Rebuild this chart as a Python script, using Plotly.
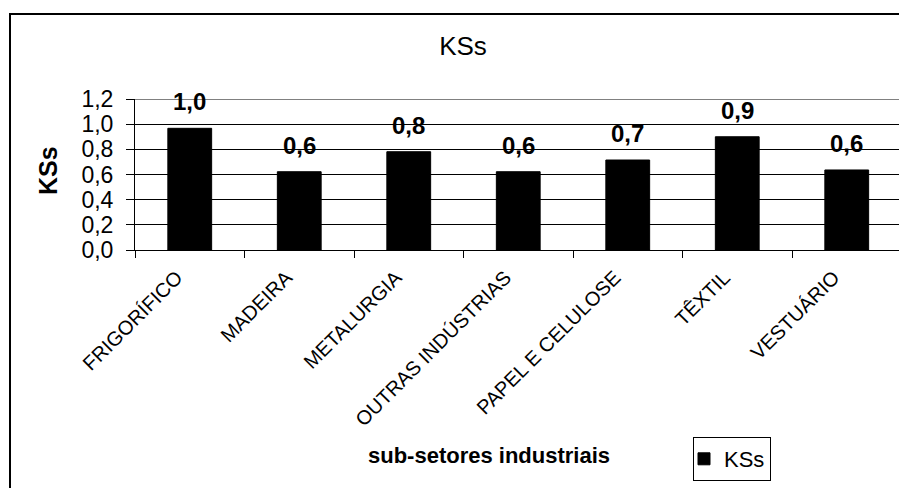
import plotly.graph_objects as go

# Sub-sectors and their KSs values
categories = ["FRIGORÍFICO", "MADEIRA", "METALURGIA", "OUTRAS INDÚSTRIAS",
              "PAPEL E CELULOSE", "TÊXTIL", "VESTUÁRIO"]
kss_values = [0.967, 0.622, 0.781, 0.622, 0.715, 0.900, 0.636]
y_ticks = [0.0, 0.2, 0.4, 0.6, 0.8, 1.0, 1.2]

FONT = "Arial, Liberation Sans, sans-serif"

W, H = 899, 488
ML, MR, MT, MB = 135, 0, 99, 238
plot_w = W - ML - MR
plot_h = H - MT - MB


def px_to_paper_x(px):
    return (px - ML) / plot_w


def px_to_paper_y(py):
    return (H - MB - py) / plot_h


fig = go.Figure()
fig.add_trace(go.Bar(
    x=categories,
    y=kss_values,
    name="KSs",
    marker=dict(color="black", line=dict(color="black", width=1)),
))

# Value labels above each bar (one decimal, comma separator)
for cat, val in zip(categories, kss_values):
    fig.add_annotation(
        x=cat, y=val, xref="x", yref="y",
        text="<b>" + f"{val:.1f}".replace(".", ",") + "</b>",
        showarrow=False, xanchor="center", yanchor="bottom", yshift=11,
        font=dict(family=FONT, size=24, color="black"),
    )

# Axis titles
fig.add_annotation(
    x=px_to_paper_x(48), y=px_to_paper_y(171), xref="paper", yref="paper",
    xanchor="center", yanchor="middle",
    text="<b>KSs</b>", textangle=-90, showarrow=False,
    font=dict(family=FONT, size=25, color="black"),
)
fig.add_annotation(
    x=px_to_paper_x(489), y=px_to_paper_y(455), xref="paper", yref="paper",
    xanchor="center", yanchor="middle",
    text="<b>sub-setores industriais</b>", showarrow=False,
    font=dict(family=FONT, size=22, color="black"),
)

# Top edge of the plot area and the outer chart frame
fig.add_shape(type="line", xref="paper", yref="y", x0=0, x1=1, y0=1.2, y1=1.2,
              line=dict(color="#808080", width=2))
fig.add_shape(type="rect", xref="paper", yref="paper",
              x0=px_to_paper_x(10), x1=px_to_paper_x(W + 60),
              y0=px_to_paper_y(H + 60), y1=px_to_paper_y(14),
              line=dict(color="black", width=2), fillcolor="rgba(0,0,0,0)")

fig.update_layout(
    width=W, height=H,
    margin=dict(l=ML, r=MR, t=MT, b=MB, autoexpand=False),
    paper_bgcolor="white", plot_bgcolor="white",
    separators=",.",
    bargap=0.6,
    showlegend=True,
    title=dict(text="KSs", x=463 / W, xref="container", xanchor="center",
               y=1 - 46 / H, yref="container", yanchor="middle",
               font=dict(family=FONT, size=26, color="black")),
    legend=dict(
        x=px_to_paper_x(693), y=px_to_paper_y(437), xanchor="left", yanchor="top",
        bordercolor="black", borderwidth=1, bgcolor="white",
        itemwidth=30, indentation=-10,
        font=dict(family=FONT, size=22, color="black"),
    ),
    xaxis=dict(
        type="category",
        range=[-0.5, -0.5 + plot_w / 109.5],
        tickangle=-45,
        tickson="boundaries",
        ticks="outside", ticklen=7, tickcolor="black",
        ticklabelshift=-13, ticklabelstandoff=7,
        showline=True, linecolor="black", linewidth=1,
        showgrid=False,
        tickfont=dict(family=FONT, size=20, color="black"),
        automargin=False,
    ),
    yaxis=dict(
        range=[0, 1.2],
        tickvals=y_ticks,
        tickformat=".1f",
        ticks="outside", ticklen=8, tickcolor="black",
        ticklabelstandoff=8,
        showline=True, linecolor="black", linewidth=1,
        showgrid=True, gridcolor="black", gridwidth=1,
        zeroline=False,
        tickfont=dict(family=FONT, size=23, color="black"),
        automargin=False,
    ),
)

fig.write_html("out.html")
